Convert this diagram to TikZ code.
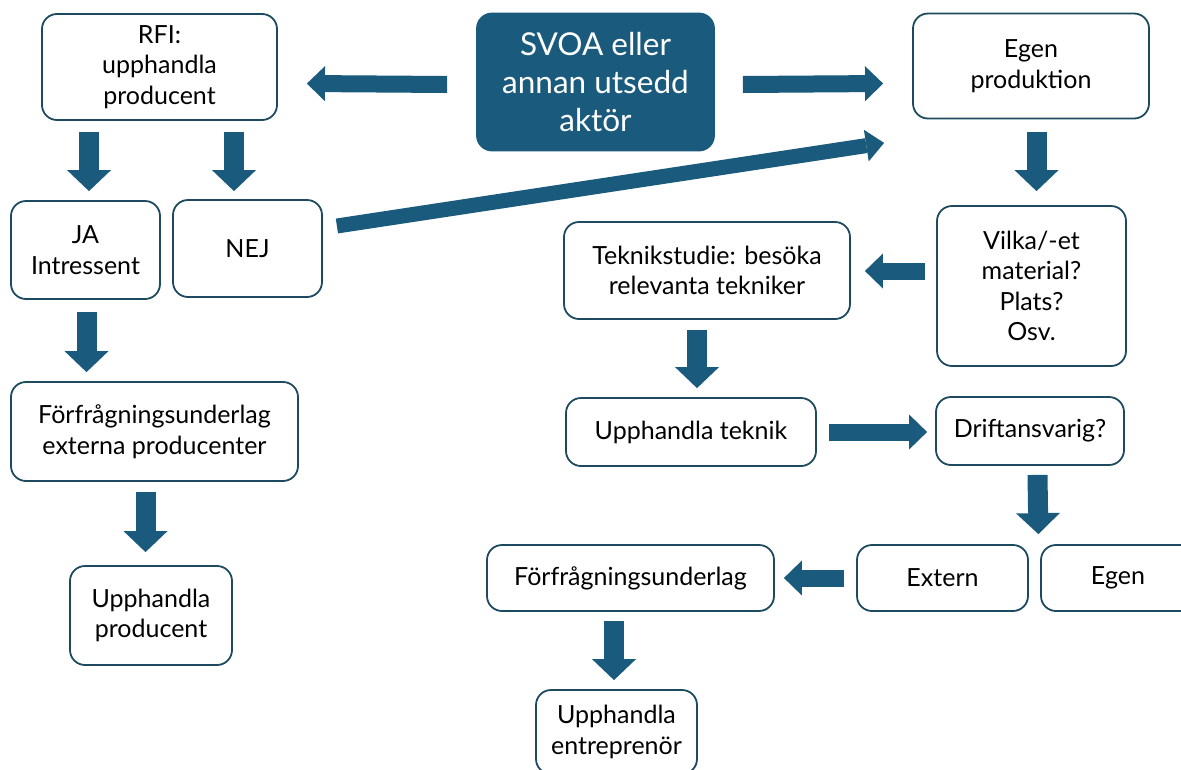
\documentclass[tikz,border=0pt]{standalone}
\usepackage{fontspec}
\setmainfont{Lato}
\usetikzlibrary{arrows.meta}

\begin{document}
\begin{tikzpicture}[x=1pt, y=-1pt]
  \definecolor{myblue}{HTML}{1A5B7D}
  \definecolor{myline}{HTML}{1E4A60}
  \tikzstyle{box}=[draw=myline, line width=1.8pt, rounded corners=15pt, fill=white, align=center, inner sep=0pt, font=\fontsize{25}{30.5}\selectfont]
  \tikzstyle{down}=[draw=myblue, line width=20pt, -{Triangle[width=44pt, length=21pt, line width=0pt]}]
  \tikzstyle{side}=[draw=myblue, line width=17pt, -{Triangle[width=35pt, length=18pt, line width=0pt]}]
  \tikzstyle{slant}=[draw=myblue, line width=15pt, -{Triangle[width=32pt, length=18pt, line width=0pt]}]

  \clip (0,0) rectangle (1181,769);

  % left column
  \node[box, minimum width=235pt, minimum height=106pt] (rfi) at (159.5,67) {RFI:\\upphandla\\producent};
  \node[box, minimum width=149pt, minimum height=98pt] (ja) at (85.5,250) {JA\\Intressent};
  \node[box, minimum width=149pt, minimum height=97pt] (nej) at (247.5,248.5) {NEJ};
  \node[box, minimum width=287pt, minimum height=99pt] (forfext) at (154.5,431.5) {Förfrågningsunderlag\\externa producenter};
  \node[box, minimum width=162pt, minimum height=99pt] (uppprod) at (151,615.5) {Upphandla\\producent};

  % start
  \node[box, draw=myblue, fill=myblue, text=white, minimum width=237pt, minimum height=137pt, font=\fontsize{31.5}{38}\selectfont] (svoa) at (595.5,82) {SVOA eller\\annan utsedd\\aktör};

  % right side
  \node[box, minimum width=236pt, minimum height=105pt] (egenprod) at (1031,66) {Egen\\produktion};
  \node[box, minimum width=189pt, minimum height=160pt] (vilka) at (1031.5,286) {Vilka/-et\\material?\\Plats?\\Osv.};
  \node[box, minimum width=286pt, minimum height=97pt] (tekn) at (707,270.5) {Teknikstudie: besöka\\relevanta tekniker};
  \node[box, minimum width=250pt, minimum height=68pt] (upptek) at (691,432) {Upphandla teknik};
  \node[box, minimum width=188pt, minimum height=68pt] (drift) at (1030,431) {Driftansvarig?};
  \node[box, minimum width=171pt, minimum height=66pt] (extern) at (942.5,578) {Extern};
  \node[box, minimum width=154pt, minimum height=66pt] (egen) at (1118,578) {Egen};
  \node[box, minimum width=287pt, minimum height=66pt] (forf) at (630.5,578) {Förfrågningsunderlag};
  \node[box, minimum width=161pt, minimum height=84pt] (uppentr) at (616.5,732) {Upphandla\\entreprenör};

  % arrows
  \draw[side] ([xshift=-29pt, yshift=-2.5pt]svoa.west) -- ([xshift=29pt, yshift=-16.5pt]rfi.east);
  \draw[side] ([xshift=28pt, yshift=-2.5pt]svoa.east) -- ([xshift=-29pt, yshift=-17.5pt]egenprod.west);
  \draw[down] ([xshift=-70.5pt, yshift=-11pt]rfi.south) -- ([xshift=3.5pt, yshift=9pt]ja.north);
  \draw[down] ([xshift=74.5pt, yshift=-11pt]rfi.south) -- ([xshift=-13.5pt, yshift=8pt]nej.north);
  \draw[slant] ([xshift=14pt, yshift=22.5pt]nej.east) -- ([xshift=-28pt, yshift=-23.5pt]egenprod.south west);
  \draw[down] ([xshift=1pt, yshift=-12pt]ja.south) -- ([xshift=-68pt, yshift=9pt]forfext.north);
  \draw[down] ([xshift=-9pt, yshift=-10pt]forfext.south) -- ([xshift=-5.5pt, yshift=13pt]uppprod.north);
  \draw[down] ([xshift=5.5pt, yshift=-12.5pt]egenprod.south) -- ([xshift=5pt, yshift=14pt]vilka.north);
  \draw[side] ([xshift=-11pt, yshift=15pt]vilka.west) -- ([xshift=14pt, yshift=-0.5pt]tekn.east);
  \draw[down] ([xshift=-10pt, yshift=-10pt]tekn.south) -- ([xshift=6pt, yshift=9pt]upptek.north);
  \draw[side] ([xshift=12pt]upptek.east) -- ([xshift=-8pt, yshift=-1pt]drift.west);
  \draw[down] ([xshift=7.5pt, yshift=-9pt]drift.south) -- ([xshift=9.5pt, yshift=10pt]extern.north east);
  \draw[side] ([xshift=-12pt]extern.west) -- ([xshift=9pt]forf.east);
  \draw[down] ([xshift=-16.5pt, yshift=-9pt]forf.south) -- ([xshift=-2.5pt, yshift=9pt]uppentr.north);
\end{tikzpicture}
\end{document}
